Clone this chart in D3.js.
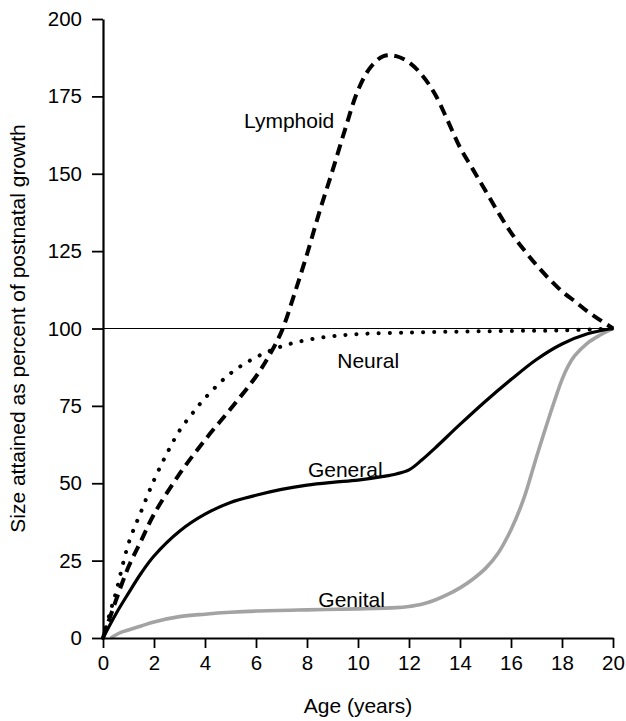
<!DOCTYPE html>
<html>
<head>
<meta charset="utf-8">
<script src="https://cdn.jsdelivr.net/npm/d3@7/dist/d3.min.js"></script>
<style>
  html, body { margin: 0; padding: 0; background: #fff; }
  svg { display: block; }
  text { font-family: "Liberation Sans", Arial, Helvetica, sans-serif; fill: #000; }
</style>
</head>
<body>
<svg id="chart" width="626" height="721"></svg>
<script>
// ---- Data ----
const xTicks = [0, 2, 4, 6, 8, 10, 12, 14, 16, 18, 20];
const yTicks = [0, 25, 50, 75, 100, 125, 150, 175, 200];

const lymphoidAges   = [0, 0.5, 1, 1.5, 2, 3, 4, 5, 6, 6.5, 7, 7.5, 8, 8.5, 9, 9.5, 10, 10.5, 11, 11.5, 12, 12.5, 13, 13.5, 14, 14.5, 15, 15.5, 16, 16.5, 17, 17.5, 18, 18.5, 19, 19.5, 20];
const lymphoidValues = [0, 12, 23, 31.5, 40, 53, 64, 74, 84.5, 91, 99, 111, 124, 138, 151, 164.5, 177, 184.5, 188, 188, 186, 182, 176, 167.5, 158.5, 151.5, 144.5, 137.5, 131, 125.5, 120.5, 116, 112, 108.8, 105.5, 102.7, 100];

const neuralAges   = [0, 0.25, 0.5, 1, 1.5, 2, 2.5, 3, 3.5, 4, 5, 6, 7, 8, 9, 10, 12, 14, 16, 18, 20];
const neuralValues = [0, 7.5, 14.5, 30.5, 41, 51, 59.5, 67, 72.5, 77.5, 85.5, 90.7, 94.2, 96.3, 97.5, 98.2, 98.7, 99, 99.2, 99.4, 100];

const generalAges   = [0, 0.5, 1, 1.5, 2, 3, 4, 5, 6, 7, 8, 9, 10, 11, 11.5, 12, 12.5, 13, 14, 15, 16, 17, 18, 19, 20];
const generalValues = [0, 7.7, 14.5, 21, 26.5, 34.5, 40, 43.8, 46.1, 48, 49.4, 50.3, 51, 52.2, 53, 54.3, 57.5, 61.2, 69, 76.5, 83.5, 90, 95, 98.3, 100];

const genitalAges   = [0.3, 0.7, 1, 1.5, 2, 3, 4, 5, 6, 8, 10, 11.5, 12, 12.5, 13, 13.5, 14, 14.5, 15, 15.5, 16, 16.5, 17, 17.5, 18, 18.25, 18.5, 19, 19.5, 20];
const genitalValues = [0, 1.8, 2.6, 3.9, 5.2, 6.9, 7.7, 8.3, 8.7, 9.1, 9.4, 9.8, 10.2, 10.9, 12.2, 14, 16.2, 19, 22.5, 27.5, 35, 45, 58.5, 71.5, 83.5, 88, 91.2, 95.3, 97.9, 100];

const seriesNames = ["Lymphoid", "Neural", "General", "Genital"];
// label anchor points in data units (age, value)
const labelAges   = [7.3, 10.4, 9.5, 9.75];
const labelValues = [167, 89.5, 54.5, 12.5];

// ---- Layout ----
const svg = d3.select("#chart");
const margin = { left: 103, right: 13, top: 19, bottom: 83 };
const W = 626, H = 721;
const x = d3.scaleLinear().domain([0, 20]).range([margin.left, W - margin.right]);
const y = d3.scaleLinear().domain([0, 200]).range([H - margin.bottom, margin.top]);

// reference line at 100
svg.append("line")
  .attr("x1", x(0)).attr("x2", x(20))
  .attr("y1", y(100)).attr("y2", y(100))
  .attr("stroke", "#000").attr("stroke-width", 1.2);

const line = d3.line().x(d => x(d[0])).y(d => y(d[1])).curve(d3.curveCatmullRom.alpha(0.5));
const zip = (a, b) => a.map((v, i) => [v, b[i]]);

const styles = {
  Lymphoid: { color: "#000", width: 4, dash: "11 6.5", cap: "butt" },
  Neural:   { color: "#000", width: 4, dash: "0.1 11", cap: "round" },
  General:  { color: "#000", width: 3.2, dash: null, cap: "butt" },
  Genital:  { color: "#a3a3a3", width: 3.6, dash: null, cap: "butt" }
};
const seriesData = {
  Lymphoid: zip(lymphoidAges, lymphoidValues),
  Neural: zip(neuralAges, neuralValues),
  General: zip(generalAges, generalValues),
  Genital: zip(genitalAges, genitalValues)
};

["Genital", "General", "Neural", "Lymphoid"].forEach(name => {
  const s = styles[name];
  const p = svg.append("path")
    .datum(seriesData[name])
    .attr("d", line)
    .attr("fill", "none")
    .attr("stroke", s.color)
    .attr("stroke-width", s.width)
    .attr("stroke-linecap", s.cap)
    .attr("stroke-linejoin", "round");
  if (s.dash) p.attr("stroke-dasharray", s.dash);
});

// series labels
seriesNames.forEach((name, i) => {
  svg.append("text")
    .attr("x", x(labelAges[i]))
    .attr("y", y(labelValues[i]))
    .attr("text-anchor", "middle")
    .attr("dy", "0.35em")
    .style("font-size", "21px")
    .text(name);
});

// axes
const xAxis = d3.axisBottom(x).tickValues(xTicks).tickFormat(d3.format("d"))
  .tickSizeInner(10).tickSizeOuter(0).tickPadding(7);
const yAxis = d3.axisLeft(y).tickValues(yTicks).tickFormat(d3.format("d"))
  .tickSizeInner(11).tickSizeOuter(0).tickPadding(10);

const gx = svg.append("g").attr("transform", `translate(0,${y(0)})`).call(xAxis);
const gy = svg.append("g").attr("transform", `translate(${x(0)},0)`).call(yAxis);
[gx, gy].forEach(g => {
  g.select(".domain").attr("stroke", "#000").attr("stroke-width", 2.2);
  g.selectAll(".tick line").attr("stroke", "#000").attr("stroke-width", 1.8);
  g.selectAll(".tick text").style("font-size", "20.5px")
    .style("font-family", '"Liberation Sans", Arial, Helvetica, sans-serif').attr("fill", "#000");
});

// axis titles
svg.append("text")
  .attr("x", (x(0) + x(20)) / 2)
  .attr("y", 713)
  .attr("text-anchor", "middle")
  .style("font-size", "21px")
  .text("Age (years)");

svg.append("text")
  .attr("transform", `translate(25,${(y(0) + y(200)) / 2}) rotate(-90)`)
  .attr("text-anchor", "middle")
  .style("font-size", "21px")
  .text("Size attained as percent of postnatal growth");
</script>
</body>
</html>
